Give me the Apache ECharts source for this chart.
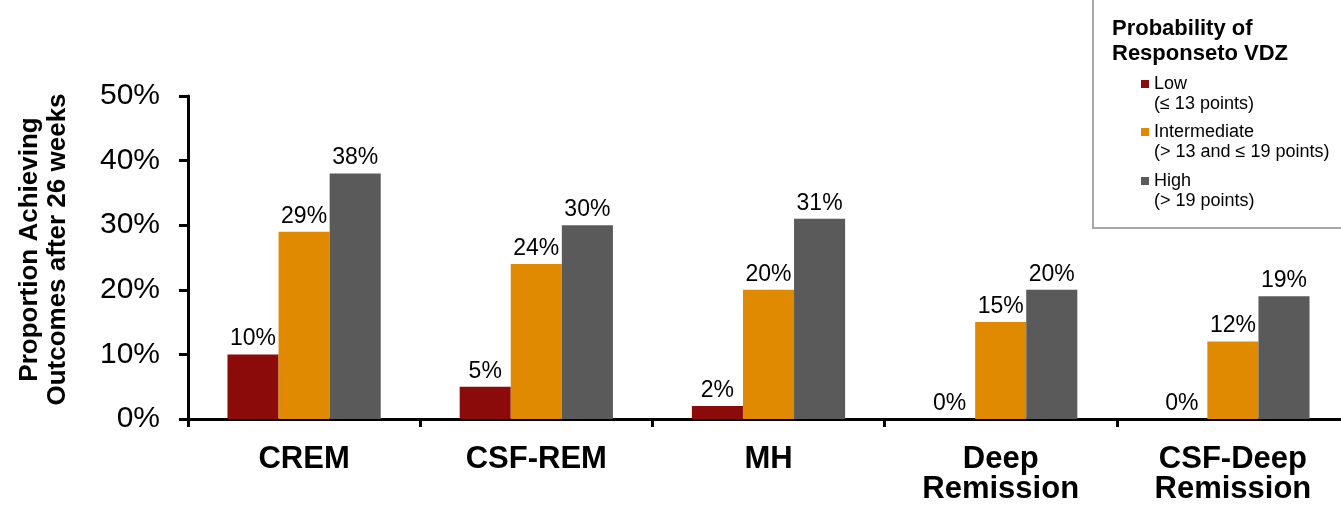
<!DOCTYPE html>
<html>
<head>
<meta charset="utf-8">
<script src="https://cdn.jsdelivr.net/npm/echarts@6/dist/echarts.min.js"></script>
<style>
html,body{margin:0;padding:0;background:#fff;}
#chart{width:1341px;height:508px;}
</style>
</head>
<body>
<div id="chart"></div>
<script>
var categories = ['CREM', 'CSF-REM', 'MH', 'Deep\nRemission', 'CSF-Deep\nRemission'];
var seriesNames = ['Low', 'Intermediate', 'High'];
var seriesSub = ['(\u2264 13 points)', '(> 13 and \u2264 19 points)', '(> 19 points)'];
var lowValues = [10, 5, 2, 0, 0];
var intermediateValues = [29, 24, 20, 15, 12];
var highValues = [38, 30, 31, 20, 19];
var yTicks = [0, 10, 20, 30, 40, 50];
var colors = ['#8B0B0B', '#DF8A00', '#5A5A5A'];

var font = 'Arial, "Liberation Sans", sans-serif';
var chart = echarts.init(document.getElementById('chart'), null, {renderer: 'canvas'});

var dataSets = [lowValues, intermediateValues, highValues];
var series = dataSets.map(function (vals, i) {
  return {
    name: seriesNames[i],
    type: 'bar',
    data: vals,
    barGap: '0%',
    barCategoryGap: '34%',
    itemStyle: {color: colors[i]},
    label: {
      show: true,
      position: 'top',
      distance: 4,
      formatter: '{c}%',
      fontFamily: font,
      fontSize: 23,
      color: '#000'
    }
  };
});

var legendTops = [54, 102, 151];
var legends = seriesNames.map(function (n, i) {
  return {
    data: [n],
    left: 1141,
    top: legendTops[i],
    padding: 0,
    orient: 'vertical',
    icon: 'rect',
    itemWidth: 8,
    itemHeight: 8,
    selectedMode: false,
    formatter: function (name) { return '\n' + name + '\n' + seriesSub[seriesNames.indexOf(name)]; },
    textStyle: {
      fontFamily: font,
      fontSize: 18,
      lineHeight: 20,
      color: '#000'
    }
  };
});

chart.setOption({
  animation: false,
  backgroundColor: '#fff',
  grid: {left: 188, width: 1161, top: 96, bottom: 89, outerBoundsMode: 'none', containLabel: false},
  legend: legends,
  graphic: [
    {
      type: 'rect',
      left: 1092, top: -2,
      shape: {width: 262, height: 229},
      style: {fill: 'transparent', stroke: '#A6A6A6', lineWidth: 2},
      z: 0
    },
    {
      type: 'text',
      left: 1112, top: 16,
      style: {
        text: 'Probability of\nResponseto VDZ',
        font: 'bold 22px ' + font,
        lineHeight: 25,
        fill: '#000'
      }
    }
  ],
  xAxis: {
    type: 'category',
    data: categories,
    axisLine: {lineStyle: {color: '#000', width: 3}},
    axisTick: {show: true, length: 8, lineStyle: {color: '#000', width: 3}},
    axisLabel: {
      margin: 25,
      fontFamily: font,
      fontWeight: 'bold',
      fontSize: 31,
      lineHeight: 30,
      color: '#000',
      interval: 0
    },
    splitLine: {show: false}
  },
  yAxis: {
    type: 'value',
    min: yTicks[0],
    max: yTicks[yTicks.length - 1],
    interval: 10,
    name: 'Proportion Achieving\nOutcomes after 26 weeks',
    nameLocation: 'middle',
    nameRotate: 90,
    nameGap: 116,
    nameTextStyle: {
      fontFamily: font,
      fontWeight: 'bold',
      fontSize: 26,
      lineHeight: 28,
      color: '#000',
      padding: [0, 0, 0, 16]
    },
    axisLine: {show: true, lineStyle: {color: '#000', width: 3}},
    axisTick: {show: true, length: 9, lineStyle: {color: '#000', width: 3}},
    axisLabel: {
      margin: 28,
      formatter: '{value}%',
      fontFamily: font,
      fontSize: 30,
      color: '#000'
    },
    splitLine: {show: false}
  },
  series: series
});
</script>
</body>
</html>
